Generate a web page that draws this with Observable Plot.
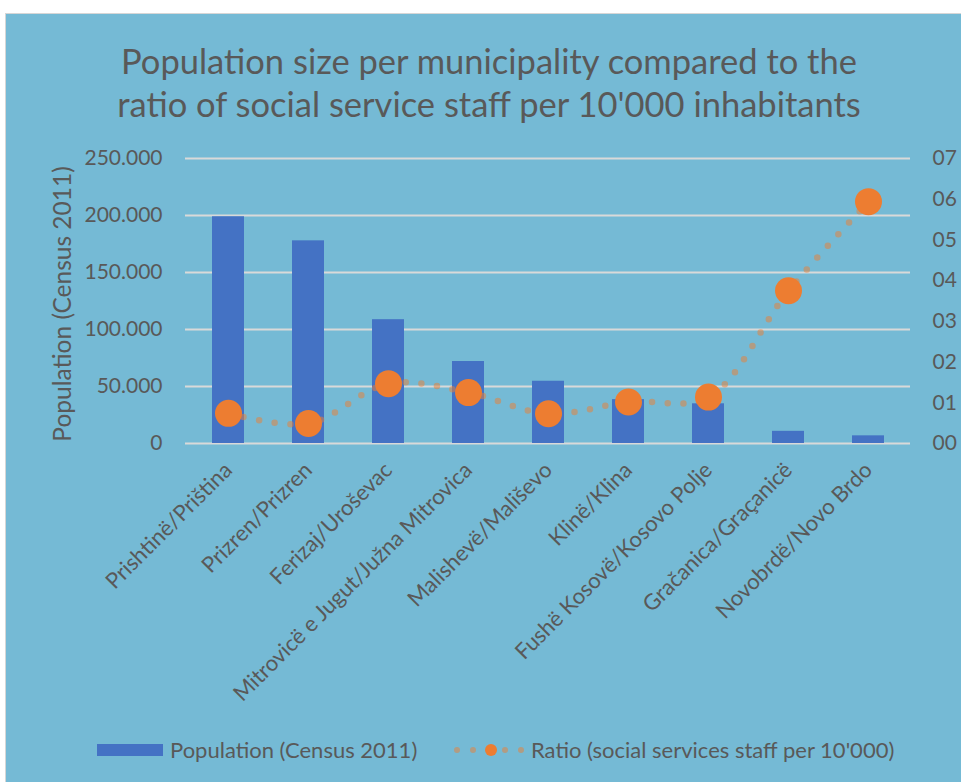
<!DOCTYPE html>
<html>
<head>
<meta charset="utf-8">
<script src="https://cdn.jsdelivr.net/npm/d3@7"></script>
<script src="https://cdn.jsdelivr.net/npm/@observablehq/plot@0.6"></script>
<style>
  body { margin: 0; background: #ffffff; font-family: Lato, "Open Sans", sans-serif; }
  #frame { position: absolute; left: 5px; top: 13px; width: 956px; height: 769px; background: #75BAD5;
           border-left: 1.5px solid #d6d6d6; border-top: 1.5px solid #d6d6d6; box-sizing: border-box; }
  #title { position: absolute; left: 0; top: 25px; width: 966px; text-align: center; color: #595959;
           font-size: 34.5px; line-height: 43px; }
  #chart { position: absolute; left: 0; top: 121px; }
  .leg { position: absolute; color: #595959; font-size: 22px; line-height: 26px; top: 723px; white-space: nowrap; }
  .sw { position: absolute; }
</style>
</head>
<body>
<div id="frame">
  <div id="title">Population size per municipality compared to the<br>ratio of social service staff per 10'000 inhabitants</div>
  <div id="chart"></div>
</div>
<script>
const municipalities = [
  "Prishtinë/Priština", "Prizren/Prizren", "Ferizaj/Uroševac", "Mitrovicë e Jugut/Južna Mitrovica",
  "Malishevë/Mališevo", "Klinë/Klina", "Fushë Kosovë/Kosovo Polje", "Gračanica/Graçanicë", "Novobrdë/Novo Brdo"
];
const population = [198897, 177781, 108610, 71909, 54613, 38496, 34827, 10675, 6729];
const ratio = [0.074, 0.049, 0.147, 0.125, 0.073, 0.102, 0.114, 0.375, 0.594];
const popTicks = [0, 50000, 100000, 150000, 200000, 250000];
const popTickLabels = ["0", "50.000", "100.000", "150.000", "200.000", "250.000"];
const ratioTicks = [0, 0.1, 0.2, 0.3, 0.4, 0.5, 0.6, 0.7];
const ratioTickLabels = ["00", "01", "02", "03", "04", "05", "06", "07"];
const seriesNames = ["Population (Census 2011)", "Ratio (social services staff per 10'000)"];
const yTitle = "Population (Census 2011)";

const popMax = 250000, ratioMax = 0.7;
const toPop = r => r / ratioMax * popMax;
const data = municipalities.map((m, i) => ({name: m, pop: population[i], ratio: ratio[i]}));

const txt = "#595959", blue = "#4472C4", orange = "#ED7D31", grid = "#D9D9D9";

const chart = Plot.plot({
  width: 955, height: 585,
  marginLeft: 179, marginRight: 51, marginTop: 23, marginBottom: 277,
  style: {background: "transparent", fontFamily: "Lato, 'Open Sans', sans-serif", color: txt},
  x: {domain: municipalities, paddingInner: 0.6, paddingOuter: 0.3},
  y: {domain: [0, popMax]},
  marks: [
    Plot.gridY(popTicks, {stroke: grid, strokeOpacity: 1, strokeWidth: 1.8}),
    Plot.barY(data, {x: "name", y: "pop", fill: blue}),
    Plot.line(data, {x: "name", y: d => toPop(d.ratio), stroke: orange, strokeOpacity: 0.5, strokeWidth: 6.5,
      strokeDasharray: "0 15.7", strokeLinecap: "round", curve: "catmull-rom"}),
    Plot.dot(data, {x: "name", y: d => toPop(d.ratio), r: 13.5, fill: orange, stroke: "none"}),
    Plot.axisY(popTicks, {anchor: "left", tickSize: 0, tickPadding: 23, fontSize: 21, fill: txt,
      tickFormat: d => popTickLabels[popTicks.indexOf(d)], label: null}),
    Plot.axisY(ratioTicks.map(toPop), {anchor: "right", tickSize: 0, tickPadding: 22, fontSize: 21, fill: txt,
      tickFormat: d => ratioTickLabels[Math.round(d / popMax * ratioMax * 10)], label: null}),
    Plot.axisX({anchor: "bottom", tickSize: 0, tickPadding: 23, tickRotate: -45, fontSize: 22, fill: txt, label: null}),
    Plot.text([yTitle], {frameAnchor: "left", textAnchor: "middle", dx: -122, dy: 3, rotate: -90, fontSize: 24.5,
      fill: txt, text: d => d})
  ]
});
document.getElementById("chart").appendChild(chart);

// legend
const frame = document.getElementById("frame");
function add(el) { frame.appendChild(el); return el; }
const r1 = document.createElement("div");
r1.className = "sw";
Object.assign(r1.style, {left: "91px", top: "730px", width: "66px", height: "12px", background: blue});
add(r1);
const t1 = document.createElement("div");
t1.className = "leg"; t1.style.left = "164px"; t1.textContent = seriesNames[0];
add(t1);
[451, 467, 499, 515].forEach(x => {
  const d = document.createElement("div");
  d.className = "sw";
  Object.assign(d.style, {left: (x - 3) + "px", top: "733px", width: "6px", height: "6px", borderRadius: "50%",
    background: "rgba(237,125,49,0.5)"});
  add(d);
});
const big = document.createElement("div");
big.className = "sw";
Object.assign(big.style, {left: "479px", top: "730px", width: "12px", height: "12px", borderRadius: "50%", background: orange});
add(big);
const t2 = document.createElement("div");
t2.className = "leg"; t2.style.left = "525px"; t2.textContent = seriesNames[1];
add(t2);
</script>
</body>
</html>
